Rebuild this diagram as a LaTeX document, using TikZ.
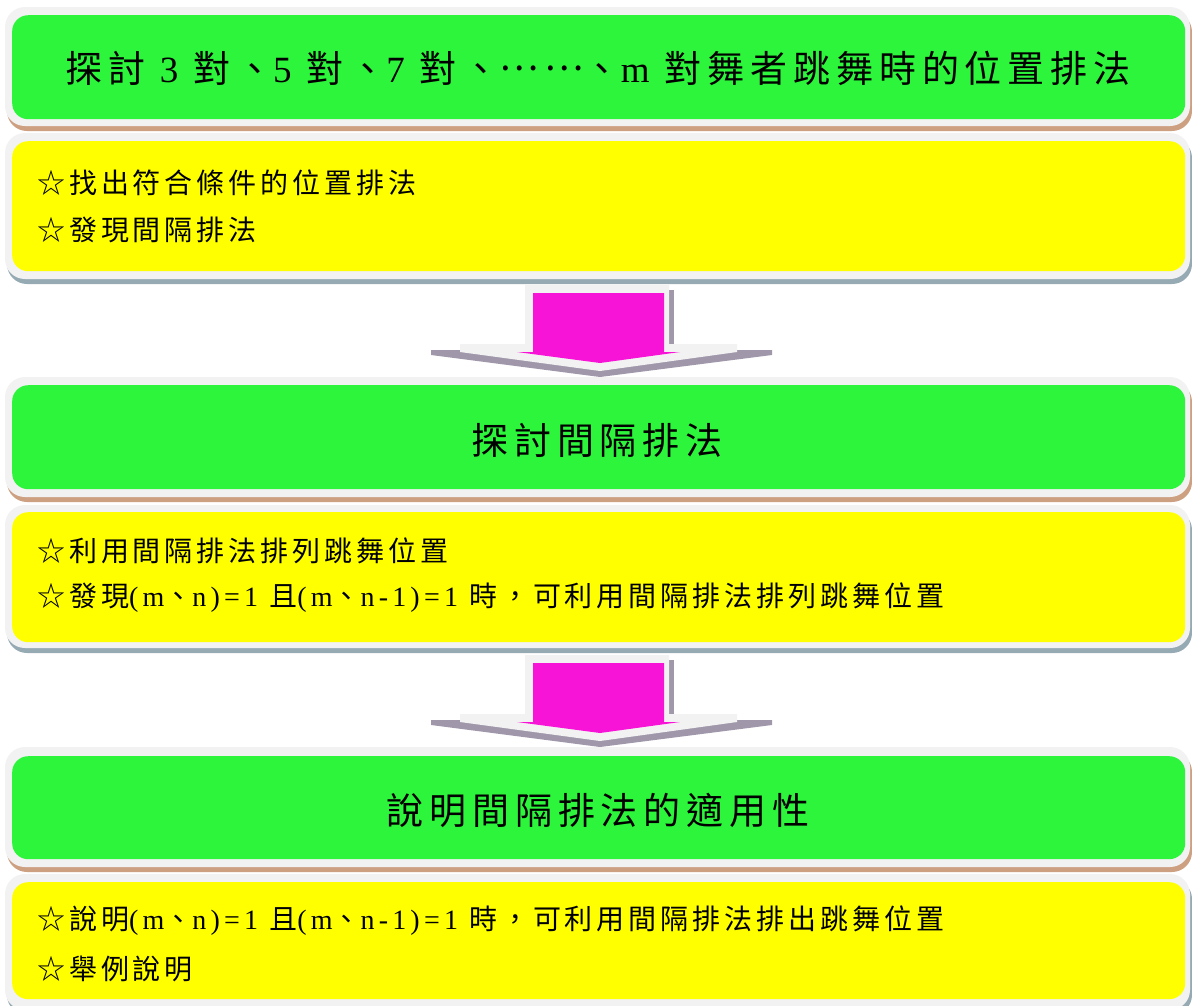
\documentclass[tikz,border=0pt]{standalone}
\usepackage{fontspec}
\newfontfamily\cjkfont[LetterSpace=14]{Noto Sans CJK TC}
\newfontfamily\cjkbig[LetterSpace=16]{Noto Sans CJK TC}
\newfontfamily\latfont[LetterSpace=15]{Liberation Serif}
\newcommand\lt[1]{{\latfont #1}}
\definecolor{pgray}{RGB}{242,242,242}
\definecolor{gfill}{RGB}{45,245,60}
\definecolor{yfill}{RGB}{255,255,0}
\definecolor{bshadow}{RGB}{205,160,130}
\definecolor{yshadow}{RGB}{150,170,180}
\definecolor{ashadow}{RGB}{160,152,170}
\definecolor{mfill}{RGB}{248,20,215}
\newcommand\panel[7]{%
  \fill[#7, rounded corners=20pt] (7,#2+5) rectangle (1192,#3+5);
  \fill[pgray, rounded corners=20pt] (5,#2) rectangle (1190,#3);
  \node[innerbox, fill=#6, minimum height={(#5-#4)*1pt}] (#1) at (12,#4) {};
}
\newcommand\blockarrow[2]{%
  \begin{scope}[shift={(0,#2)}]
    \fill[ashadow] (431,350) -- (772,350) -- (772,355) -- (600,377) -- (431,355) -- cycle;
    \fill[ashadow] (668,290) rectangle (674,350);
    \fill[pgray] (525,285) -- (669,285) -- (669,344) -- (737,344) -- (737,352) -- (600,371) -- (460,352) -- (460,344) -- (525,344) -- cycle;
    \fill[mfill] (533,293) -- (664,293) -- (664,352) -- (680,352) -- (600,363) -- (517,352) -- (533,352) -- cycle;
    \coordinate (#1) at (600,330);
  \end{scope}
}
\begin{document}
\begin{tikzpicture}[x=1pt,y=-1pt,
  innerbox/.style={rectangle, rounded corners=16pt, inner sep=0pt, anchor=north west, minimum width=1173pt},
  bigtext/.style={inner sep=0pt, font=\cjkbig\fontsize{37}{44}\selectfont},
  linetext/.style={inner sep=0pt, anchor=west, font=\cjkfont\fontsize{28}{34}\selectfont}]
\useasboundingbox (0,0) rectangle (1192,1005);
\panel{g1}{7}{126}{15}{119}{gfill}{bshadow}
\panel{y1}{133}{279}{141}{271}{yfill}{yshadow}
\blockarrow{a1}{0}
\panel{g2}{377}{497}{385}{489}{gfill}{bshadow}
\panel{y2}{505}{648}{512}{642}{yfill}{yshadow}
\blockarrow{a2}{370}
\panel{g3}{747}{867}{756}{859}{gfill}{bshadow}
\panel{y3}{874}{1010}{882}{999}{yfill}{yshadow}

\node[bigtext] (t1) at (598,68) {探討\lt{\ 3\ }對、\lt{5\ }對、\lt{7\ }對、\raisebox{12pt}{……}、\lt{m\ }對舞者跳舞時的位置排法};
\node[linetext] (l1a) at (37,183) {☆找出符合條件的位置排法};
\node[linetext] (l1b) at (37,230) {☆發現間隔排法};
\node[bigtext] (t2) at (597,440) {探討間隔排法};
\node[linetext] (l2a) at (37,551) {☆利用間隔排法排列跳舞位置};
\node[linetext] (l2b) at (37,598) {☆發現\lt{(m}、\lt{n)=1\ }且\lt{(m}、\lt{n-1)=1\ }時，可利用間隔排法排列跳舞位置};
\node[bigtext] (t3) at (598,810) {說明間隔排法的適用性};
\node[linetext] (l3a) at (37,921) {☆說明\lt{(m}、\lt{n)=1\ }且\lt{(m}、\lt{n-1)=1\ }時，可利用間隔排法排出跳舞位置};
\node[linetext] (l3b) at (37,969) {☆舉例說明};
\end{tikzpicture}
\end{document}
